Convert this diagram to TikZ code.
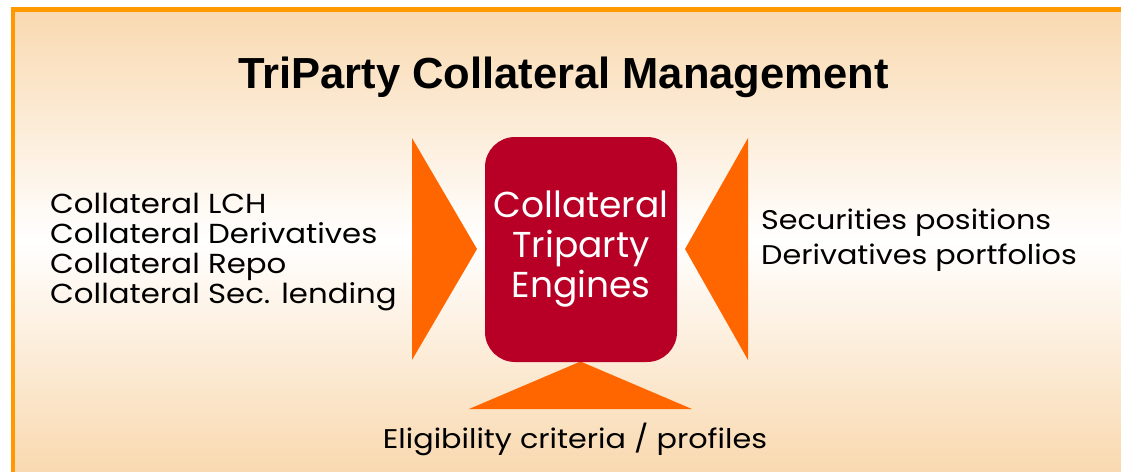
\documentclass[tikz,border=0pt]{standalone}
\usepackage{fontspec}
\setmainfont{Poppins}
\newfontfamily\titlefont{Liberation Sans}
\newfontfamily\widefont[FakeStretch=1.12]{Poppins}
\definecolor{peach}{RGB}{249,217,176}
\definecolor{frameorange}{RGB}{255,153,0}
\definecolor{pointer}{RGB}{255,102,0}
\definecolor{enginered}{RGB}{184,0,38}
\tikzset{
  engine/.style={fill=enginered, rounded corners=30pt, minimum width=192pt,
    minimum height=225pt, text=white, align=center,
    font=\fontsize{36}{40}\selectfont},
  listtext/.style={align=left, inner sep=0pt, font=\widefont\fontsize{27.5}{30}\selectfont}
}
\begin{document}
\begin{tikzpicture}[x=1pt,y=-1pt]
\useasboundingbox (0,0) rectangle (1121,471);
% panel
\shade[top color=peach, bottom color=peach, middle color=white] (13,9.5) rectangle (1130,471);
\draw[frameorange, line width=4.5pt] (13,480) -- (13,9.5) -- (1130,9.5);

\node[anchor=base, inner sep=0pt, font=\titlefont\bfseries\fontsize{43.5}{50}\selectfont] (title) at (563.5,88) {TriParty Collateral Management};

% pointers into the engine
\fill[pointer] (412,138) -- (477,249) -- (412,360) -- cycle;
\fill[pointer] (748,138) -- (685,249) -- (748,360) -- cycle;
\fill[pointer] (580.5,361.5) -- (692,409) -- (469,409) -- cycle;

\node[engine] (engine) at (581,249.5) {Collateral\\Triparty\\Engines};

\node[listtext, anchor=west] (uses) at (50,252) {Collateral LCH\\Collateral Derivatives\\Collateral Repo\\Collateral Sec. lending};
\node[listtext, anchor=west, font=\widefont\fontsize{27}{35}\selectfont] (positions) at (761,240) {Securities positions\\Derivatives portfolios};
\node[anchor=base, inner sep=0pt, font=\widefont\fontsize{27}{36}\selectfont] (criteria) at (575,448) {Eligibility criteria / profiles};
\end{tikzpicture}
\end{document}
